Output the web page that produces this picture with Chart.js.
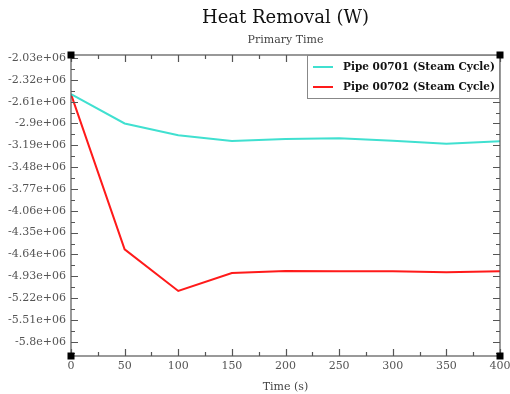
<!DOCTYPE html>
<html>
<head>
<meta charset="utf-8">
<script src="https://cdn.jsdelivr.net/npm/chart.js@4/dist/chart.umd.min.js"></script>
<style>
  html, body { margin: 0; padding: 0; background: #fff; }
</style>
</head>
<body>
<canvas id="chart" width="510" height="394"></canvas>
<script>
// time points (s)
const times = [0, 50, 100, 150, 200, 250, 300, 350, 400];
// heat removal per pipe (W)
const pipe701 = [-2.51e6, -2.90e6, -3.057e6, -3.133e6, -3.106e6, -3.097e6, -3.129e6, -3.168e6, -3.137e6];
const pipe702 = [-2.51e6, -4.572e6, -5.126e6, -4.887e6, -4.860e6, -4.864e6, -4.864e6, -4.878e6, -4.864e6];
const seriesLabels = ['Pipe 00701 (Steam Cycle)', 'Pipe 00702 (Steam Cycle)'];
const seriesColors = ['#40e0d0', '#ff1a1a'];

// axis ticks
const xTicks = [0, 50, 100, 150, 200, 250, 300, 350, 400];
const xMinor = [25, 75, 125, 175, 225, 275, 325, 375];
const yTicks = [-2.03e6, -2.32e6, -2.61e6, -2.9e6, -3.19e6, -3.48e6, -3.77e6, -4.06e6, -4.35e6, -4.64e6, -4.93e6, -5.22e6, -5.51e6, -5.8e6];
const yTickLabels = ['-2.03e+06', '-2.32e+06', '-2.61e+06', '-2.9e+06', '-3.19e+06', '-3.48e+06', '-3.77e+06', '-4.06e+06', '-4.35e+06', '-4.64e+06', '-4.93e+06', '-5.22e+06', '-5.51e+06', '-5.8e+06'];
const yMinor = [-2.175e6, -2.465e6, -2.755e6, -3.045e6, -3.335e6, -3.625e6, -3.915e6, -4.205e6, -4.495e6, -4.785e6, -5.075e6, -5.365e6, -5.655e6, -5.945e6];
const yMin = -5.99e6, yMax = -1.99e6;

const titleText = 'Heat Removal (W)';
const subtitleText = 'Primary Time';
const xTitle = 'Time (s)';

const SERIF = '"DejaVu Serif", serif';

// frame with inward ticks, corner squares, titles and boxed legend
const framePlugin = {
  id: 'frame',
  afterDatasetsDraw(chart) {
    const ctx = chart.ctx;
    const a = chart.chartArea;
    const xs = chart.scales.x, ys = chart.scales.y;
    ctx.save();
    ctx.strokeStyle = '#555';
    ctx.lineWidth = 1.2;
    ctx.strokeRect(a.left, a.top, a.right - a.left, a.bottom - a.top);
    ctx.beginPath();
    const tick = (vals, len) => {
      vals.forEach(v => {
        const px = Math.round(xs.getPixelForValue(v)) + 0.5;
        ctx.moveTo(px, a.bottom); ctx.lineTo(px, a.bottom - len);
        ctx.moveTo(px, a.top); ctx.lineTo(px, a.top + len);
      });
    };
    const ytick = (vals, len) => {
      vals.forEach(v => {
        const py = Math.round(ys.getPixelForValue(v)) + 0.5;
        ctx.moveTo(a.left, py); ctx.lineTo(a.left + len, py);
        ctx.moveTo(a.right, py); ctx.lineTo(a.right - len, py);
      });
    };
    tick(xTicks, 7); tick(xMinor, 4);
    ytick(yTicks, 7); ytick(yMinor, 4);
    ctx.stroke();

    // legend box
    const lx = 307, ly = a.top, lw = a.right - lx, lh = 44;
    ctx.fillStyle = '#fff';
    ctx.fillRect(lx, ly, lw, lh);
    ctx.strokeStyle = '#888';
    ctx.lineWidth = 1;
    ctx.strokeRect(lx + 0.5, ly + 0.5, lw - 1, lh - 1);
    chart.data.datasets.forEach((ds, i) => {
      const y = ly + 12 + i * 20;
      ctx.strokeStyle = ds.borderColor;
      ctx.lineWidth = 2;
      ctx.beginPath();
      ctx.moveTo(lx + 6, y); ctx.lineTo(lx + 26, y);
      ctx.stroke();
      ctx.fillStyle = '#111';
      ctx.font = '600 11px ' + SERIF;
      ctx.textBaseline = 'middle';
      ctx.textAlign = 'left';
      ctx.fillText(ds.label, lx + 36, y, 152);
    });

    // corner squares
    ctx.fillStyle = '#000';
    [[a.left, a.top], [a.right, a.top], [a.left, a.bottom], [a.right, a.bottom]].forEach(([x, y]) => {
      ctx.fillRect(x - 3.5, y - 3.5, 7, 7);
    });

    // titles
    const cx = (a.left + a.right) / 2;
    ctx.textAlign = 'center';
    ctx.textBaseline = 'middle';
    ctx.fillStyle = '#111';
    ctx.font = '18px ' + SERIF;
    ctx.fillText(titleText, cx, 18);
    ctx.fillStyle = '#444';
    ctx.font = '11px ' + SERIF;
    ctx.fillText(subtitleText, cx, 40);
    ctx.restore();
  }
};

new Chart(document.getElementById('chart'), {
  type: 'line',
  data: {
    labels: times,
    datasets: [
      { label: seriesLabels[0], data: pipe701, borderColor: seriesColors[0], backgroundColor: seriesColors[0], borderWidth: 2, pointRadius: 0, tension: 0 },
      { label: seriesLabels[1], data: pipe702, borderColor: seriesColors[1], backgroundColor: seriesColors[1], borderWidth: 2, pointRadius: 0, tension: 0 }
    ]
  },
  options: {
    responsive: false,
    animation: false,
    devicePixelRatio: 1,
    layout: { padding: { top: 55, right: 10, left: 0, bottom: 0 } },
    plugins: { legend: { display: false }, title: { display: false }, tooltip: { enabled: false } },
    scales: {
      x: {
        type: 'linear',
        min: 0, max: 400,
        afterBuildTicks: s => { s.ticks = xTicks.map(v => ({ value: v })); },
        afterFit: s => { s.height = 38; s.paddingRight = 0; },
        grid: { display: false, drawTicks: false },
        border: { display: false },
        ticks: { color: '#555', padding: 4, autoSkip: false, maxRotation: 0, font: { family: SERIF, size: 11 }, callback: v => String(v) },
        title: { display: true, text: xTitle, color: '#444', padding: { top: 2, bottom: 0 }, font: { family: SERIF, size: 11 } }
      },
      y: {
        type: 'linear',
        min: yMin, max: yMax,
        afterBuildTicks: s => { s.ticks = yTicks.map(v => ({ value: v })); },
        afterFit: s => { s.width = 71; },
        grid: { display: false, drawTicks: false },
        border: { display: false },
        ticks: {
          color: '#555', padding: 5, autoSkip: false, font: { family: SERIF, size: 11 },
          callback: v => { const i = yTicks.indexOf(v); return i >= 0 ? yTickLabels[i] : ''; }
        }
      }
    }
  },
  plugins: [framePlugin]
});
</script>
</body>
</html>
